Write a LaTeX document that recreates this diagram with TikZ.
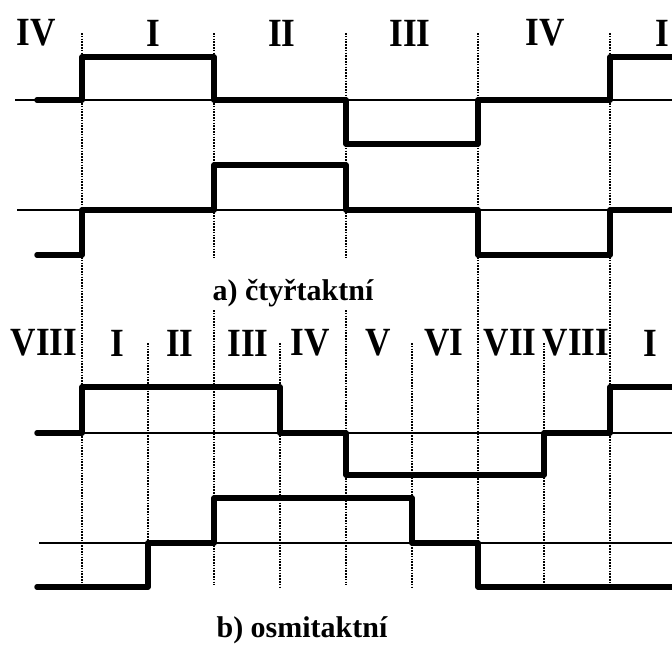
\documentclass[tikz,border=0pt]{standalone}
\usepackage{fontspec}
\setmainfont{Liberation Serif}
\tikzset{
  wave/.style={line width=5.5pt,line join=round,line cap=round},
  axisline/.style={line width=2pt},
  stroke/.style={line width=1.6pt,dash pattern=on 1.5pt off 1.3pt},
  numlabel/.style={font=\fontsize{40}{40}\selectfont\bfseries,xscale=0.88,inner sep=0pt},
  caption/.style={font=\fontsize{30}{30}\selectfont\bfseries,inner sep=0pt}
}
\begin{document}
\begin{tikzpicture}[x=1pt,y=-1pt]
  \useasboundingbox (0,0) rectangle (672,648);
  % a) four-stroke
  \foreach \x in {82,478,610} \draw[stroke] (\x,33)--(\x,585);
  \foreach \x in {214,346} {
    \draw[stroke] (\x,33)--(\x,258);
    \draw[stroke] (\x,310)--(\x,585);
  }
  \foreach \x in {148,280,412,544} \draw[stroke] (\x,343)--(\x,587);
  \draw[axisline] (15,100)--(672,100);
  \draw[axisline] (17,210)--(672,210);
  \draw[wave] (37,100)--(82,100)--(82,57)--(214,57)--(214,100)--(346,100)
    --(346,144)--(478,144)--(478,100)--(610,100)--(610,57)--(672,57);
  \draw[wave] (37,255)--(82,255)--(82,210)--(214,210)--(214,165)--(346,165)
    --(346,210)--(478,210)--(478,255)--(610,255)--(610,210)--(672,210);
  \foreach \x/\t [count=\i] in {36/IV,153/I,282/II,410/III,545/IV,662/I}
    \node[numlabel] (ta\i) at (\x,33) {\t};
  \node[caption] (capa) at (293,293) {a) čtyřtaktní};
  % b) eight-stroke
  \draw[axisline] (37,433)--(672,433);
  \draw[axisline] (39,543)--(672,543);
  \draw[wave] (37,433)--(82,433)--(82,387)--(280,387)--(280,433)--(346,433)
    --(346,475)--(544,475)--(544,433)--(610,433)--(610,387)--(672,387);
  \draw[wave] (37,587)--(148,587)--(148,543)--(214,543)--(214,498)--(412,498)
    --(412,543)--(478,543)--(478,587)--(672,587);
  \foreach \x/\t [count=\i] in {44/VIII,117/I,180/II,248/III,310/IV,378/V,444/VI,510/VII,576/VIII,650/I}
    \node[numlabel] (tb\i) at (\x,343) {\t};
  \node[caption] (capb) at (302,630) {b) osmitaktní};
\end{tikzpicture}
\end{document}
